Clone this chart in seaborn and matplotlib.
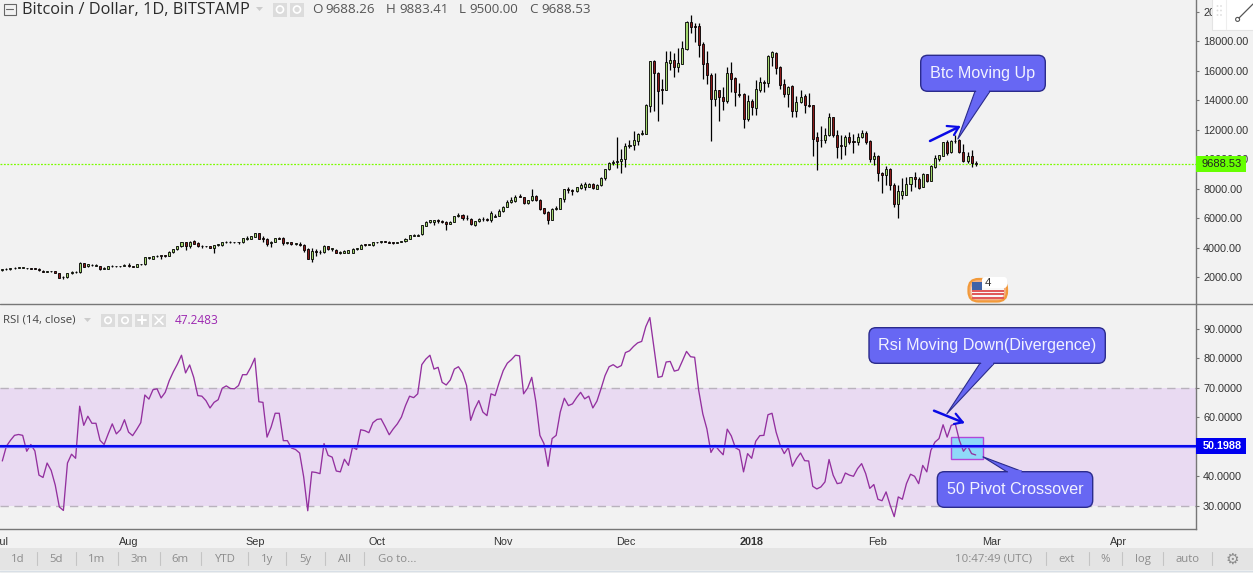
import numpy as np
import pandas as pd
import matplotlib
matplotlib.use("Agg")
import matplotlib.pyplot as plt
import matplotlib.dates as mdates
from matplotlib.patches import FancyBboxPatch, Polygon, Rectangle, Circle
import seaborn as sns

opens = [2480,2530,2520,2590,2620,2630,2630,2590,2570,2550,
 2440,2360,2380,2390,2250,1980,1980,2250,2310,2310,
 2920,2730,2840,2780,2770,2550,2570,2720,2740,2720,
 2740,2780,2750,2710,2850,2860,3260,3240,3400,3430,
 3440,3420,3680,3880,4080,4350,4130,4440,4280,4080,
 4090,4080,3990,4160,4150,4350,4400,4350,4340,4370,
 4600,4590,4740,4950,4590,4600,4280,4400,4610,4620,
 4290,4340,4240,4260,4190,3880,3230,3750,3690,3680,
 4110,3900,3860,3640,3640,3650,3660,3930,3930,4200,
 4180,4160,4340,4370,4400,4390,4330,4310,4380,4430,
 4600,4790,4780,4890,5480,5700,5730,5850,5780,5750,
 5620,5740,6120,6180,6030,5920,5530,5780,5950,5920,
 5890,6100,6160,6480,6770,7070,7150,7480,7430,6990,
 7200,7510,7220,6680,6380,5890,6600,6640,7300,7950,
 7870,7810,8010,8110,8120,8330,8000,8230,8700,9300,
 9700,9810,9860,9980,10880,10930,11240,11670,11720,13600,
 16640,15860,14730,14700,16530,16690,16260,16460,17460,19270,
 18980,19020,17800,16490,15670,14040,14680,14180,13960,15810,
 15470,14440,14410,12690,13910,13430,14680,15220,15140,16940,
 17160,16220,15060,14430,14950,13280,13890,14270,13680,13640,
 11470,11300,11280,11600,12830,11630,10930,10900,11470,11220,
 11140,11480,11740,11220,9980,10210,9080,8890,9320,8230,
 6930,7580,7570,8280,8760,8640,8130,8980,8530,9480,
 10020,10230,11150,10450,11190,11260,10500,9850,10190,9688.26]
highs = [2560,2580,2620,2650,2650,2660,2640,2610,2590,2580,
 2500,2430,2420,2420,2270,2070,2260,2390,2440,2990,
 2970,2900,2860,2860,2780,2650,2730,2810,2760,2770,
 2850,2920,2780,2860,2880,3370,3340,3420,3480,3440,
 3480,3730,3920,4130,4380,4400,4420,4500,4340,4200,
 4130,4120,4170,4220,4400,4450,4410,4370,4390,4670,
 4770,4800,5010,4980,4750,4630,4420,4660,4690,4680,
 4400,4370,4320,4380,4220,3960,3950,3890,3850,4140,
 4120,4000,3880,3770,3820,3860,3970,3990,4240,4220,
 4270,4390,4400,4440,4450,4420,4380,4400,4460,4640,
 4860,4900,4900,5520,5800,5890,5870,5900,5840,5790,
 5790,6160,6360,6270,6200,5990,5830,5990,6100,6000,
 6480,6240,6620,6840,7240,7430,7590,7650,7450,7250,
 7940,7530,7300,6710,6500,6700,6820,7380,7990,8080,
 8000,8130,8390,8420,8360,8380,8290,8770,9340,9770,
 9960,11490,10650,11060,11290,11900,11790,12000,13700,16660,
 16730,15880,15420,17320,17320,17190,17550,18000,19370,19760,
 19200,19200,17950,17350,15850,15810,14680,14860,16210,16580,
 15540,15130,14450,14340,14050,15360,15540,15360,17060,17340,
 17280,16300,15420,14950,15020,14270,14680,14410,14450,13680,
 11830,12240,12080,13100,12850,11970,11630,11650,11830,11700,
 11740,11970,11880,11290,10480,10280,9110,9520,9400,8350,
 8210,8690,8750,8790,9150,8760,9050,9000,9560,10270,
 10290,11180,11290,11270,11650,11330,11020,10490,10620,9883.41]
lows = [2440,2490,2500,2560,2590,2610,2570,2540,2520,2420,
 2330,2340,2340,2270,1940,1880,1950,2220,2290,2280,
 2680,2700,2730,2760,2480,2510,2560,2690,2680,2670,
 2720,2670,2680,2690,2820,2830,3230,3220,3360,3240,
 3390,3400,3650,3860,4050,3830,3960,4230,4050,3980,
 4050,3970,3640,4100,4110,4300,4310,4300,4270,4320,
 4490,4570,4720,4580,4400,4130,4050,4350,4550,4180,
 4240,4170,4170,4110,3720,3220,3020,3450,3570,3650,
 3850,3780,3610,3560,3610,3620,3640,3860,3900,4120,
 4140,4120,4290,4330,4340,4290,4250,4290,4350,4400,
 4570,4760,4750,4860,5450,5680,5550,5630,5640,5190,
 5580,5700,6040,5890,5840,5550,5480,5700,5830,5820,
 5750,6060,6130,6440,6730,7020,7110,7400,6960,6970,
 7140,7160,6570,6290,5620,5860,6560,6590,7070,7670,
 7590,7780,7970,7880,8100,7950,7960,8190,8560,9250,
 9600,9410,9060,9480,10750,10610,10980,11600,11680,13200,
 13230,12580,13700,14680,16030,15560,15920,16420,17360,18570,
 17950,16940,15450,15090,11240,13590,12590,13300,13770,14570,
 13590,14170,12120,12600,13000,13000,14570,14510,14900,16320,
 15760,14740,14220,13500,12870,12870,13800,13140,13500,10230,
 9250,10790,11100,11560,11500,10090,10020,10280,11020,10380,
 10930,11400,11050,9820,9590,8490,7720,8230,7900,6720,
 6020,7270,7560,7840,8120,7990,8100,8470,8500,9410,
 9860,10190,10250,10440,11070,10380,9830,9700,9480,9500]
closes = [2530,2520,2590,2620,2630,2630,2590,2570,2550,2450,
 2360,2380,2390,2300,1960,1990,2250,2310,2340,2950,
 2700,2880,2790,2810,2540,2600,2720,2740,2720,2740,
 2810,2760,2710,2850,2860,3330,3330,3400,3440,3420,
 3430,3690,3890,4100,4350,4130,4370,4260,4080,4090,
 4080,4000,4160,4180,4350,4400,4350,4340,4350,4620,
 4600,4760,4950,4590,4580,4250,4400,4620,4600,4290,
 4340,4240,4260,4190,3830,3240,3750,3690,3670,4110,
 3900,3910,3640,3660,3780,3820,3930,3930,4200,4180,
 4200,4340,4370,4400,4390,4330,4310,4380,4430,4590,
 4830,4860,4880,5500,5710,5860,5860,5780,5750,5620,
 5740,6120,6180,6030,5970,5570,5780,5950,5920,5890,
 6320,6150,6480,6770,7070,7230,7440,7440,6990,7220,
 7490,7200,6610,6340,5880,6600,6650,7340,7950,7870,
 7810,8100,8270,8290,8280,8010,8260,8720,9300,9720,
 9820,9870,9970,10880,10950,11290,11670,11740,13640,16640,
 15850,14630,14680,16580,16710,16260,16490,17500,19270,18970,
 18960,17750,16460,15670,14040,14680,14180,13960,15810,15400,
 14520,14340,12690,13910,13500,14720,15220,15120,16980,17260,
 16150,15040,14430,14900,13280,13860,14220,13680,13590,11380,
 11240,11270,11630,12870,11600,10840,10890,11470,11180,11170,
 11520,11740,11150,10010,10190,9030,8890,9320,8210,6930,
 7830,7830,8300,8760,8630,8050,8980,8530,9540,10040,
 10270,11150,10430,11200,11220,10450,9870,10210,9720,9688.53]
rsi = [45.2,50.2,52.2,53.9,54.2,53.9,48.5,50.8,48.6,40.4,
 39.6,44.5,42.0,37.0,29.6,28.4,44.5,47.5,46.1,63.8,
 57.3,60.4,58.0,58.0,52.2,50.8,54.4,57.8,54.4,55.8,
 59.2,55.0,53.8,55.9,58.2,67.6,66.2,69.4,69.7,66.6,
 68.5,72.5,75.5,78.1,81.1,75.1,77.8,73.6,67.4,67.2,
 65.7,63.2,65.1,66.0,69.9,70.7,69.8,69.7,70.8,74.5,
 74.5,77.0,80.1,65.3,65.1,53.3,56.7,61.4,61.4,52.1,
 52.1,49.6,49.1,47.9,39.8,28.3,41.5,41.3,40.9,51.1,
 47.1,46.5,41.8,41.5,45.8,43.7,49.9,49.1,55.8,55.5,
 54.8,58.2,59.3,59.5,56.9,54.1,56.1,57.8,60.1,64.0,
 67.2,66.7,68.0,77.9,79.8,81.1,76.4,77.0,71.9,71.0,
 72.7,76.4,77.2,75.1,70.8,59.0,62.9,65.7,61.8,60.6,
 68.0,67.4,71.9,75.9,78.4,79.6,81.1,80.9,68.0,70.0,
 73.6,65.4,53.9,51.1,43.4,52.8,53.9,61.8,66.5,64.0,
 64.6,66.7,68.5,66.3,67.2,63.2,65.5,69.7,74.2,77.2,
 77.9,76.9,77.6,82.0,82.6,84.1,85.3,85.8,90.8,93.9,
 83.7,73.6,73.9,78.8,79.0,75.7,76.1,79.2,82.4,80.6,
 80.4,69.1,61.2,56.1,48.1,50.5,48.8,47.3,56.0,53.7,
 49.7,48.9,41.5,47.7,46.1,51.9,53.8,53.9,60.9,61.4,
 55.0,50.5,47.7,49.8,43.4,46.0,47.9,45.3,45.2,36.6,
 35.7,36.4,38.1,45.7,40.4,37.5,37.8,41.1,40.4,40.0,
 42.6,44.3,40.9,35.9,37.2,32.2,31.7,34.7,30.2,26.3,
 33.0,32.2,37.5,40.7,40.0,37.5,43.7,41.5,48.8,51.6,
 52.8,57.5,53.3,57.3,57.8,52.2,48.5,50.3,47.7,47.2483]

start_date = "2017-07-01"
month_ticks = ["2017-07-01","2017-08-01","2017-09-01","2017-10-01","2017-11-01",
               "2017-12-01","2018-01-01","2018-02-01","2018-03-01","2018-04-01"]
month_labels = ["Jul","Aug","Sep","Oct","Nov","Dec","2018","Feb","Mar","Apr"]
price_ticks = [2000,4000,6000,8000,10000,12000,14000,16000,18000,20000]
rsi_ticks = [30,40,50,60,70,80,90]
last_price = 9688.53
pivot_value = 50.1988
band_low, band_high = 30, 70
range_left = ["1d","5d","1m","3m","6m","YTD","1y","5y","All","Go to..."]

BG = "#f2f2f2"
sns.set_theme(style="white", rc={"axes.facecolor": BG, "figure.facecolor": BG,
                                 "axes.edgecolor": "#777777", "axes.linewidth": 1.0})
plt.rcParams["font.family"] = ["Liberation Sans", "DejaVu Sans"]

W, H = 1253, 573
fig = plt.figure(figsize=(W/100, H/100), dpi=100)
ax_p = fig.add_axes([0, (H-304)/H, 1196/W, 304/H])
ax_r = fig.add_axes([0, (H-529.3)/H, 1196/W, 225.3/H], sharex=ax_p)
pix = fig.add_axes([0, 0, 1, 1], zorder=10, facecolor="none")
pix.set_xlim(0, W); pix.set_ylim(H, 0); pix.axis("off")

df = pd.DataFrame({"date": pd.date_range(start_date, periods=len(closes), freq="D"),
                   "open": opens, "high": highs, "low": lows, "close": closes, "rsi": rsi})
up = df["close"] >= df["open"]

# candles
ax_p.vlines(df["date"], df["low"], df["high"], color="black", lw=0.9, zorder=3)
ax_p.bar(df["date"], (df["close"]-df["open"]).abs().clip(lower=45), bottom=df[["open","close"]].min(axis=1),
         width=0.5, color=np.where(up, "#a3d76e", "#8b1a1a"), edgecolor="black", linewidth=0.6, zorder=4)
ax_p.axhline(last_price, color="#7cfc00", lw=0.9, ls=(0, (1.5, 1.2)), zorder=2)

# rsi
ax_r.axhspan(band_low, band_high, color="#e9daf2", lw=0, zorder=1)
for v in (band_low, band_high):
    ax_r.axhline(v, color="#b9b2bd", lw=1.0, ls=(0, (6, 4)), zorder=2)
sns.lineplot(x=df["date"], y=df["rsi"], ax=ax_r, color="#93309f", lw=0.95, zorder=4, legend=False)
ax_r.axhline(pivot_value, color="#5a5aff", lw=2.3, zorder=5)
ax_r.axhline(pivot_value, color="#0000e8", lw=1.3, zorder=6)

d0 = mdates.date2num(pd.Timestamp(start_date))
ax_p.set_xlim(d0-0.565, d0+293.1)
ax_p.set_ylim(170, 20780)
ax_r.set_ylim(22.0, 98.5)
ax_p.set_xlabel(""); ax_r.set_xlabel(""); ax_p.set_ylabel(""); ax_r.set_ylabel("")

for ax in (ax_p, ax_r):
    ax.spines["left"].set_visible(False)
    ax.yaxis.tick_right()
ax_p.spines["top"].set_visible(False)
ax_p.spines["bottom"].set_visible(False)
ax_r.spines["top"].set_visible(False)
ax_p.tick_params(axis="x", length=0, labelbottom=False)
ax_r.set_xticks(pd.to_datetime(month_ticks))
ax_r.set_xticklabels(month_labels)
for lab in ax_r.get_xticklabels():
    lab.set_fontweight("bold" if lab.get_text() == "2018" else "normal")
ax_r.tick_params(axis="x", length=2.5, width=0.8, color="#777777", labelsize=7.8, pad=2.8, labelcolor="#333333")
ax_p.set_yticks(price_ticks)
ax_p.set_yticklabels([f"{v:.2f}" for v in price_ticks])
ax_r.set_yticks(rsi_ticks)
ax_r.set_yticklabels(["" if v == 50 else f"{v:.4f}" for v in rsi_ticks])
for ax in (ax_p, ax_r):
    ax.tick_params(axis="y", length=2.5, width=0.8, color="#777777", labelsize=7.8, pad=2.6, labelcolor="#333333", right=True, left=False)

# pane divider and bottom strip
pix.plot([0, W], [304, 304], color="#777777", lw=1.0)
pix.add_patch(Rectangle((0, 547.7), W, 22.3, fc="#e4e4e4", ec="none"))
pix.plot([0, W], [570.5, 570.5], color="#d8dfe6", lw=1.0)

# right-scale value tags
pix.add_patch(Rectangle((1195.5, 156), 50.5, 16, fc="#66ff00", ec="none"))
pix.text(1222, 164.3, f"{last_price:.2f}", ha="center", va="center", fontsize=8.0, color="#222222")
pix.add_patch(Rectangle((1195.5, 438), 50.5, 16, fc="#0000f0", ec="none"))
pix.text(1222, 446.3, f"{pivot_value:.4f}", ha="center", va="center", fontsize=7.8, color="white", fontweight="bold")

# header
pix.add_patch(Rectangle((3.5, 3.5), 12, 11.5, fc="none", ec="#666666", lw=0.8))
pix.plot([5.5, 13], [9.2, 9.2], color="#666666", lw=0.8)
pix.text(22, 9.5, "Bitcoin / Dollar, 1D, BITSTAMP", ha="left", va="center", fontsize=11.8,
         family="Open Sans", color="#2b2b2b")
pix.add_patch(Polygon([(256, 7), (263, 7), (259.5, 11)], fc="#cccccc", ec="none"))
for x0 in (273, 290):
    pix.add_patch(Rectangle((x0, 2.5), 14, 14, fc="#dcdcdc", ec="none"))
    pix.add_patch(Circle((x0+7, 9.5), 3.5, fc="none", ec="white", lw=1.2))
for lab, val, x0, x1 in [("O","9688.26",312,325),("H","9883.41",386,399),("L","9500.00",459,469),("C","9688.53",529,541)]:
    pix.text(x0, 9.8, lab, ha="left", va="center", fontsize=9.6, color="#555555", family="Open Sans")
    pix.text(x1, 9.8, val, ha="left", va="center", fontsize=9.6, color="#555555", family="Open Sans")

pix.text(3, 320, "RSI (14, close)", ha="left", va="center", fontsize=8.2, family="Open Sans", color="#444444")
pix.add_patch(Polygon([(84, 318), (91, 318), (87.5, 322)], fc="#cccccc", ec="none"))
for x0, g in zip((101, 118, 135, 152), ("o", "g", "+", "x")):
    pix.add_patch(Rectangle((x0, 313.5), 14, 13.5, fc="#dcdcdc", ec="none"))
    if g in "og":
        pix.add_patch(Circle((x0+7, 320.3), 3.2, fc="none", ec="white", lw=1.2))
    if g == "+":
        pix.plot([x0+3, x0+11], [320.3, 320.3], color="white", lw=1.4)
        pix.plot([x0+7, x0+7], [316.3, 324.3], color="white", lw=1.4)
    if g == "x":
        pix.plot([x0+3, x0+11], [316.3, 324.3], color="white", lw=1.2)
        pix.plot([x0+3, x0+11], [324.3, 316.3], color="white", lw=1.2)
pix.text(174.5, 320, "47.2483", ha="left", va="center", fontsize=8.6, color="#9c27b0", family="Open Sans")

# bottom range bar
xs = [18, 56, 97, 139, 180, 225, 267, 305, 344, 397]
for t, x in zip(range_left, xs):
    pix.text(x, 559.3, t, ha="center", va="center", fontsize=8.2, color="#8c8c8c", family="Open Sans")
for x in (36.5, 75.5, 117.5, 159.5, 200.5, 247.5, 285.5, 324.5, 363.5):
    pix.plot([x, x], [552, 565], color="#c4c4c4", lw=0.8)
pix.text(1032, 559.3, "10:47:49 (UTC)", ha="right", va="center", fontsize=8.2, color="#8c8c8c", family="Open Sans")
for t, x in [("ext", 1067), ("%", 1105), ("log", 1142.5), ("auto", 1187.5)]:
    pix.text(x, 559.3, t, ha="center", va="center", fontsize=8.2, color="#8c8c8c", family="Open Sans")
for x in (1045.5, 1088.5, 1121.5, 1162.5, 1211.5):
    pix.plot([x, x], [552, 565], color="#c4c4c4", lw=0.8)
pix.text(1232, 559, "\u2699", ha="center", va="center", fontsize=11, color="#8c8c8c", family="DejaVu Sans")

# drawing toolbar
pix.add_patch(Rectangle((1212, -2), 43, 32, fc="white", ec="#e4e4e4", lw=0.8))
pix.plot([1226, 1226], [0, 29], color="#eeeeee", lw=0.8)
for yy in (6, 10.5, 15):
    for xx in (1217.5, 1221):
        pix.add_patch(Circle((xx, yy), 0.9, fc="#dddddd", ec="none"))
pix.plot([1239, 1253], [18, 4], color="#555555", lw=0.9)
pix.add_patch(Circle((1237.6, 19.4), 2, fc="white", ec="#555555", lw=0.8))

# badge
pix.add_patch(FancyBboxPatch((968.5, 279), 38.5, 22.5, boxstyle="round,pad=0,rounding_size=10", fc="#f4b183", ec="#f29a3a", lw=1.6))
pix.add_patch(FancyBboxPatch((971.5, 282), 32.5, 17, boxstyle="round,pad=0,rounding_size=7", fc="#f8f8f8", ec="none"))
for yy in (289.5, 293, 296.5):
    pix.add_patch(Rectangle((972, yy), 31.5, 2, fc="#e05a5a", ec="none"))
pix.add_patch(Rectangle((972, 282), 10, 8, fc="#3f62a8", ec="none"))
pix.add_patch(FancyBboxPatch((982, 277), 25, 11, boxstyle="round,pad=0,rounding_size=3", fc="white", ec="none"))
pix.text(988, 283, "4", ha="center", va="center", fontsize=8.2, color="#333333")

# highlighted box under the RSI line
ax_r.add_patch(Rectangle((950.7, 437.3), 32, 22, transform=pix.transData, fc="#8fd9f8", ec="#b048d8", lw=1.0, zorder=3, clip_on=False))

# callouts
def callout(x0, y0, x1, y1, base, tip, text):
    fc, ec = "#6767f3", "#2b2b8c"
    pix.add_patch(Polygon([base[0], tip, base[1]], closed=True, fc=fc, ec=ec, lw=0.8, joinstyle="miter"))
    pix.add_patch(FancyBboxPatch((x0, y0), x1-x0, y1-y0, boxstyle="round,pad=0,rounding_size=7", fc=fc, ec=ec, lw=1.0))
    b0, b1 = base
    yy = b0[1]
    pix.add_patch(Polygon([(b0[0]+0.8, yy-1.5), (b1[0]-0.8, yy-1.5), (b1[0]-1.5, yy+1.5), (b0[0]+1.5, yy+1.5)], fc=fc, ec="none"))
    pix.text((x0+x1)/2, (y0+y1)/2+0.3, text, ha="center", va="center", fontsize=11.6, color="#f2f2ff")

callout(920.7, 55.3, 1045.3, 91.3, [(975, 91.3), (990, 91.3)], (957.7, 139.3), "Btc Moving Up")
callout(869, 327.7, 1105.3, 363.3, [(980, 363.3), (994.3, 363.3)], (946.7, 414), "Rsi Moving Down(Divergence)")
callout(937.3, 471.7, 1092.7, 507.3, [(1006.7, 471.7), (1022.7, 471.7)], (982.7, 456.7), "50 Pivot Crossover")

def hand_arrow(a, b, c, d):
    pix.plot([a[0], b[0]], [a[1], b[1]], color="#0a0ae6", lw=1.8, solid_capstyle="round")
    pix.plot([c[0], b[0], d[0]], [c[1], b[1], d[1]], color="#0a0ae6", lw=1.6, solid_capstyle="round")

hand_arrow((930, 141), (958.7, 127), (946.7, 126), (954, 135))
hand_arrow((934, 410.7), (962.7, 422.3), (955.7, 413.7), (954, 424))

fig.savefig("out.png", dpi=100, facecolor=BG)
